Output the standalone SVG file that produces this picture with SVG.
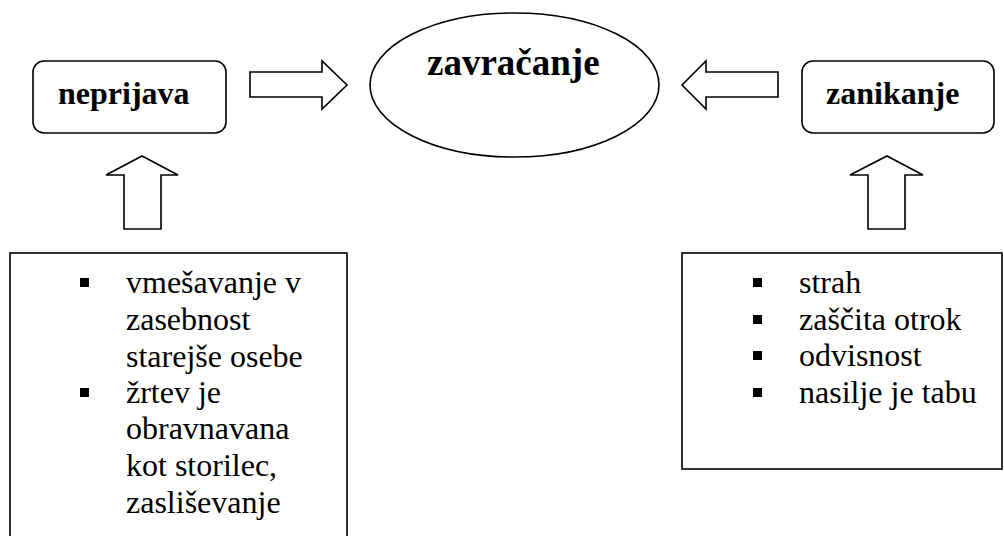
<svg xmlns="http://www.w3.org/2000/svg" width="1004" height="536" viewBox="0 0 1004 536">
<rect width="1004" height="536" fill="#fff"/>
<g id="connectors" fill="#fff" stroke="#000" stroke-width="1.6">
<polygon points="250,72 322,72 322,61 347,85 322,109 322,97 250,97"/>
<polygon points="778,72 706,72 706,61 682,85 706,109 706,97 778,97"/>
<polygon points="124,229 124,175 106,175 142,156 178,175 161,175 161,229"/>
<polygon points="868,229 868,175 850,175 887,156 923,175 905,175 905,229"/>
</g>
<g id="zavracanje">
<ellipse cx="514.5" cy="85" rx="144.5" ry="72" fill="#fff" stroke="#000" stroke-width="1.6"/>
<text x="427" y="75" font-family="Times New Roman" font-weight="bold" font-size="37">zavračanje</text>
</g>
<g id="neprijava">
<rect x="33" y="61" width="193" height="72" rx="11" fill="#fff" stroke="#000" stroke-width="1.6"/>
<text x="58" y="104" font-family="Times New Roman" font-weight="bold" font-size="32">neprijava</text>
</g>
<g id="zanikanje">
<rect x="802" y="61" width="192" height="72" rx="11" fill="#fff" stroke="#000" stroke-width="1.6"/>
<text x="826" y="104" font-family="Times New Roman" font-weight="bold" font-size="32">zanikanje</text>
</g>
<g id="left-list">
<rect x="10" y="253" width="337" height="300" fill="#fff" stroke="#000" stroke-width="1.6"/>
<rect x="80" y="278" width="9" height="9"/>
<rect x="80" y="388" width="9" height="9"/>
<text x="126" y="293" font-family="Times New Roman" font-size="32">vmešavanje v</text>
<text x="126" y="330" font-family="Times New Roman" font-size="32">zasebnost</text>
<text x="126" y="367" font-family="Times New Roman" font-size="32">starejše osebe</text>
<text x="126" y="403" font-family="Times New Roman" font-size="32">žrtev je</text>
<text x="126" y="439" font-family="Times New Roman" font-size="32">obravnavana</text>
<text x="126" y="476" font-family="Times New Roman" font-size="32">kot storilec,</text>
<text x="126" y="513" font-family="Times New Roman" font-size="32">zasliševanje</text>
</g>
<g id="right-list">
<rect x="682" y="253" width="320" height="216" fill="#fff" stroke="#000" stroke-width="1.6"/>
<rect x="753" y="278" width="9" height="9"/>
<rect x="753" y="315" width="9" height="9"/>
<rect x="753" y="351" width="9" height="9"/>
<rect x="753" y="388" width="9" height="9"/>
<text x="799" y="293" font-family="Times New Roman" font-size="32">strah</text>
<text x="799" y="330" font-family="Times New Roman" font-size="32">zaščita otrok</text>
<text x="799" y="366" font-family="Times New Roman" font-size="32">odvisnost</text>
<text x="799" y="403" font-family="Times New Roman" font-size="32">nasilje je tabu</text>
</g>
</svg>
